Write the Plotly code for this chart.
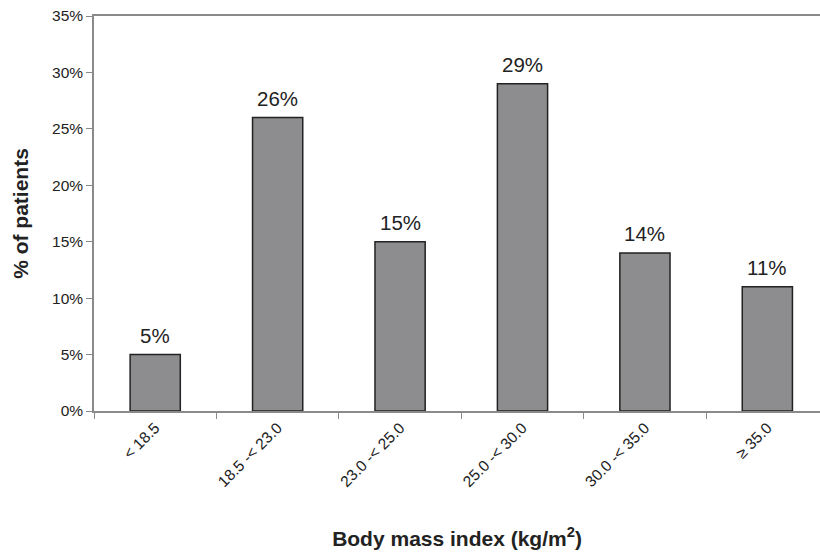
import plotly.graph_objects as go

# Share of patients by BMI class
categories = ["< 18.5", "18.5 -< 23.0", "23.0 -< 25.0", "25.0 -< 30.0", "30.0 -< 35.0", "\u2265 35.0"]
percent = [5, 26, 15, 29, 14, 11]
y_ticks = [0, 5, 10, 15, 20, 25, 30, 35]

fig = go.Figure(
    go.Bar(
        x=categories,
        y=percent,
        width=0.41,
        marker=dict(color="#8d8d90", line=dict(color="#222222", width=1.5)),
    )
)

# value labels above each bar
for cat, val in zip(categories, percent):
    fig.add_annotation(
        x=cat,
        y=val,
        text=f"{val}%",
        showarrow=False,
        yanchor="bottom",
        yshift=6,
        font=dict(family="Liberation Sans, Arial", size=20.5, color="#222222"),
    )

fig.update_layout(
    width=820,
    height=558,
    margin=dict(l=94, r=0, t=16, b=147),
    paper_bgcolor="white",
    plot_bgcolor="white",
    showlegend=False,
    font=dict(family="Liberation Sans, Arial", color="#222222"),
    xaxis=dict(
        type="category",
        range=[-0.5, 5.43],
        showline=True,
        linecolor="#8a8a8a",
        linewidth=1.5,
        mirror=True,
        ticks="outside",
        tickson="boundaries",
        ticklen=6,
        tickcolor="#8a8a8a",
        tickangle=-45,
        tickfont=dict(size=15.5, color="#222222"),
        showgrid=False,
        title=dict(
            text="<b>Body mass index (kg/m<sup>2</sup>)</b>",
            font=dict(size=21, color="#222222"),
            standoff=42,
        ),
    ),
    yaxis=dict(
        range=[0, 35],
        tickvals=y_ticks,
        ticktext=[f"{v}%" for v in y_ticks],
        showline=True,
        linecolor="#8a8a8a",
        linewidth=1.5,
        ticks="outside",
        ticklen=6,
        tickcolor="#8a8a8a",
        tickfont=dict(size=15.5, color="#222222"),
        showgrid=False,
        zeroline=False,
        title=dict(
            text="<b>% of patients</b>",
            font=dict(size=21, color="#222222"),
            standoff=18,
        ),
    ),
)

fig.write_html("out.html")
